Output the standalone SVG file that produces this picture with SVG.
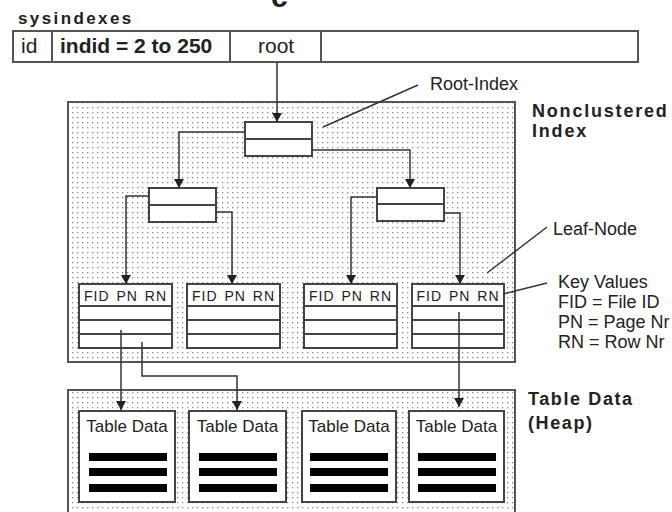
<svg xmlns="http://www.w3.org/2000/svg" width="672" height="512" viewBox="0 0 672 512">
<defs>
<pattern id="dots" width="5" height="5" patternUnits="userSpaceOnUse">
<rect width="5" height="5" fill="#fff"/>
<rect x="2" y="2" width="1.3" height="1.3" fill="#8a8a8a"/>
</pattern>
<marker id="arr" markerUnits="userSpaceOnUse" markerWidth="10" markerHeight="10" refX="9" refY="5" orient="auto">
<path d="M0,0 L9,5 L0,10 z" fill="#222"/>
</marker>
</defs>
<style>
.t{font-family:"Liberation Sans",Arial,sans-serif;fill:#222}
.b{font-weight:bold}
.box{fill:#fff;stroke:#444;stroke-width:2}
.ln{fill:none;stroke:#333;stroke-width:1.5}
.region{fill:url(#dots);stroke:#555;stroke-width:2}
.bar{fill:#000}
</style>

<text class="t b" x="271" y="7" font-size="30">c</text>

<g id="sysindexes">
<text class="t b" x="18" y="24" font-size="17" letter-spacing="2.4">sysindexes</text>
<rect x="13" y="31" width="625" height="31" fill="#fff" stroke="#555" stroke-width="2"/>
<line x1="52" y1="31" x2="52" y2="62" stroke="#555" stroke-width="2"/>
<line x1="230" y1="31" x2="230" y2="62" stroke="#555" stroke-width="2"/>
<line x1="321" y1="31" x2="321" y2="62" stroke="#555" stroke-width="2"/>
<text class="t" x="21" y="53" font-size="21">id</text>
<text class="t b" x="60" y="53" font-size="21">indid = 2 to 250</text>
<text class="t" x="258" y="53" font-size="21">root</text>
</g>

<g id="nonclustered-index">
<rect class="region" x="68" y="102" width="447" height="260"/>
<text class="t b" x="532" y="117" font-size="18" letter-spacing="1.8">Nonclustered</text>
<text class="t b" x="532" y="137" font-size="18" letter-spacing="1.8">Index</text>
</g>

<g id="table-data-region">
<rect class="region" x="68" y="390" width="447" height="130"/>
<text class="t b" x="528" y="405" font-size="18" letter-spacing="1.6">Table Data</text>
<text class="t b" x="528" y="429" font-size="18" letter-spacing="1.6">(Heap)</text>
</g>

<g id="root-index">
<rect class="box" x="245" y="122" width="67" height="34"/>
<line x1="245" y1="139" x2="312" y2="139" stroke="#444" stroke-width="2"/>
</g>

<g id="inner-left">
<rect class="box" x="149" y="188" width="67" height="34"/>
<line x1="149" y1="205" x2="216" y2="205" stroke="#444" stroke-width="2"/>
</g>

<g id="inner-right">
<rect class="box" x="377" y="188" width="67" height="33"/>
<line x1="377" y1="204" x2="444" y2="204" stroke="#444" stroke-width="2"/>
</g>

<g id="leaf1">
<rect class="box" x="79" y="284" width="93" height="64"/>
<line x1="79" y1="306" x2="172" y2="306" stroke="#444" stroke-width="2"/>
<line x1="79" y1="320" x2="172" y2="320" stroke="#444" stroke-width="2"/>
<line x1="79" y1="334" x2="172" y2="334" stroke="#444" stroke-width="2"/>
<text class="t" x="125.5" y="301" font-size="14" letter-spacing="1" word-spacing="2" text-anchor="middle">FID PN RN</text>
</g>
<g id="leaf2">
<rect class="box" x="187" y="284" width="93" height="64"/>
<line x1="187" y1="306" x2="280" y2="306" stroke="#444" stroke-width="2"/>
<line x1="187" y1="320" x2="280" y2="320" stroke="#444" stroke-width="2"/>
<line x1="187" y1="334" x2="280" y2="334" stroke="#444" stroke-width="2"/>
<text class="t" x="233.5" y="301" font-size="14" letter-spacing="1" word-spacing="2" text-anchor="middle">FID PN RN</text>
</g>
<g id="leaf3">
<rect class="box" x="304" y="284" width="93" height="64"/>
<line x1="304" y1="306" x2="397" y2="306" stroke="#444" stroke-width="2"/>
<line x1="304" y1="320" x2="397" y2="320" stroke="#444" stroke-width="2"/>
<line x1="304" y1="334" x2="397" y2="334" stroke="#444" stroke-width="2"/>
<text class="t" x="350.5" y="301" font-size="14" letter-spacing="1" word-spacing="2" text-anchor="middle">FID PN RN</text>
</g>
<g id="leaf4">
<rect class="box" x="412" y="284" width="92" height="64"/>
<line x1="412" y1="306" x2="504" y2="306" stroke="#444" stroke-width="2"/>
<line x1="412" y1="320" x2="504" y2="320" stroke="#444" stroke-width="2"/>
<line x1="412" y1="334" x2="504" y2="334" stroke="#444" stroke-width="2"/>
<text class="t" x="458" y="301" font-size="14" letter-spacing="1" word-spacing="2" text-anchor="middle">FID PN RN</text>
</g>

<g id="table1">
<rect class="box" x="79" y="411" width="96" height="91"/>
<text class="t" x="127" y="432" font-size="17" text-anchor="middle">Table Data</text>
<rect class="bar" x="89" y="453" width="78" height="8"/>
<rect class="bar" x="89" y="468" width="78" height="8"/>
<rect class="bar" x="89" y="484" width="78" height="8"/>
</g>
<g id="table2">
<rect class="box" x="189" y="411" width="97" height="91"/>
<text class="t" x="237.5" y="432" font-size="17" text-anchor="middle">Table Data</text>
<rect class="bar" x="199" y="453" width="78" height="8"/>
<rect class="bar" x="199" y="468" width="78" height="8"/>
<rect class="bar" x="199" y="484" width="78" height="8"/>
</g>
<g id="table3">
<rect class="box" x="302" y="411" width="94" height="91"/>
<text class="t" x="349" y="432" font-size="17" text-anchor="middle">Table Data</text>
<rect class="bar" x="310" y="453" width="78" height="8"/>
<rect class="bar" x="310" y="468" width="78" height="8"/>
<rect class="bar" x="310" y="484" width="78" height="8"/>
</g>
<g id="table4">
<rect class="box" x="409" y="411" width="95" height="91"/>
<text class="t" x="456.5" y="432" font-size="17" text-anchor="middle">Table Data</text>
<rect class="bar" x="418" y="453" width="78" height="8"/>
<rect class="bar" x="418" y="468" width="78" height="8"/>
<rect class="bar" x="418" y="484" width="78" height="8"/>
</g>

<g id="labels">
<text class="t" x="430" y="90" font-size="18">Root-Index</text>
<text class="t" x="553" y="235" font-size="18">Leaf-Node</text>
<text class="t" x="558" y="288" font-size="18">Key Values</text>
<text class="t" x="558" y="308" font-size="18">FID = File ID</text>
<text class="t" x="558" y="328" font-size="18">PN = Page Nr</text>
<text class="t" x="558" y="348" font-size="18">RN = Row Nr</text>
</g>

<g id="connectors">
<line class="ln" x1="277" y1="62" x2="277" y2="122" marker-end="url(#arr)"/>
<polyline class="ln" points="245,132 179,132 179,188" marker-end="url(#arr)"/>
<polyline class="ln" points="312,150 410,150 410,188" marker-end="url(#arr)"/>
<polyline class="ln" points="149,196 126,196 126,284" marker-end="url(#arr)"/>
<polyline class="ln" points="216,212 232,212 232,284" marker-end="url(#arr)"/>
<polyline class="ln" points="377,197 351,197 351,284" marker-end="url(#arr)"/>
<polyline class="ln" points="444,213 460,213 460,284" marker-end="url(#arr)"/>
<line class="ln" x1="121" y1="330" x2="121" y2="410" marker-end="url(#arr)"/>
<polyline class="ln" points="142,342 142,376 237,376 237,410" marker-end="url(#arr)"/>
<line class="ln" x1="459" y1="312" x2="459" y2="407" marker-end="url(#arr)"/>
<line class="ln" x1="418" y1="85" x2="323" y2="127"/>
<line class="ln" x1="547" y1="227" x2="487" y2="273"/>
<line class="ln" x1="547" y1="283" x2="503" y2="294"/>
</g>
</svg>
